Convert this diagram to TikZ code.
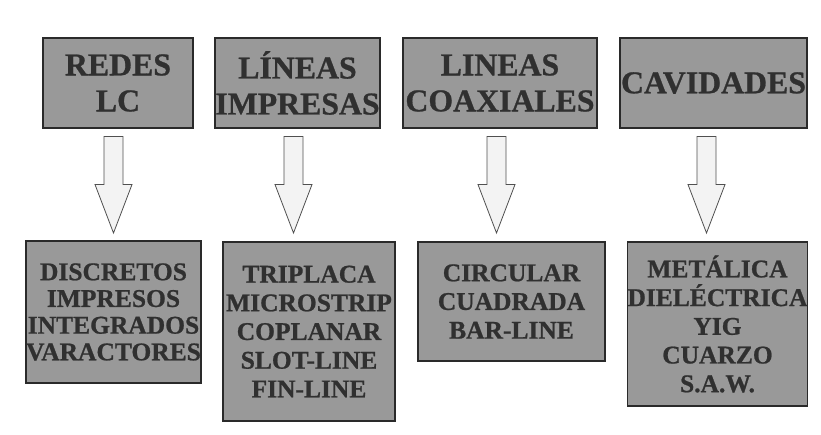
\documentclass[tikz,border=0pt]{standalone}
\usepackage{fontspec}
\setmainfont{Liberation Serif}[BoldFeatures={FakeBold=0.8}]
\definecolor{boxfill}{HTML}{999999}
\definecolor{boxline}{HTML}{2A2A2A}
\definecolor{txt}{HTML}{303030}
\definecolor{arrfill}{HTML}{F3F3F3}
\definecolor{arrline}{HTML}{505050}
\begin{document}
\begin{tikzpicture}[x=1pt,y=-1pt,
  topbox/.style={draw=boxline,fill=boxfill,line width=1.3pt,inner sep=0pt,align=center,text=txt,
    font=\fontsize{31.8}{36}\selectfont\bfseries},
  botbox/.style={draw=boxline,fill=boxfill,line width=1.3pt,inner sep=0pt,align=center,text=txt,
    font=\fontsize{25.5}{28.7}\selectfont\bfseries},
  fatarrow/.style={draw=arrline,fill=arrfill,line width=0.8pt,line join=miter}]
\useasboundingbox (0,0) rectangle (821,434);
% top boxes
\node[topbox,minimum width=150pt,minimum height=90pt] (t1) at (118,83) {REDES\\LC};
\node[topbox,minimum width=165pt,minimum height=90pt] (t2) at (297.5,83) {LÍNEAS\\IMPRESAS};
\node[topbox,minimum width=194pt,minimum height=90pt] (t3) at (500,83) {LINEAS\\COAXIALES};
\node[topbox,minimum width=187pt,minimum height=90pt] (t4) at (713.5,83) {CAVIDADES};
% bottom boxes
\node[botbox,minimum width=173pt,minimum height=142pt,font=\fontsize{25.5}{26.7}\selectfont\bfseries] (b1) at (113.5,312) {DISCRETOS\\IMPRESOS\\INTEGRADOS\\VARACTORES};
\node[botbox,minimum width=172pt,minimum height=179pt] (b2) at (309,331.5) {TRIPLACA\\MICROSTRIP\\COPLANAR\\SLOT-LINE\\FIN-LINE};
\node[botbox,minimum width=187pt,minimum height=119pt] (b3) at (511.5,301.5) {CIRCULAR\\CUADRADA\\BAR-LINE};
\node[botbox,minimum width=179pt,minimum height=164pt] (b4) at (717.5,324) {METÁLICA\\DIELÉCTRICA\\YIG\\CUARZO\\S.A.W.};
% block arrows
\foreach \n/\cx in {1/113.5,2/293.5,3/496.5,4/706.5}{
  \draw[fatarrow] (\cx-9.5,136.5) -- (\cx+9.5,136.5) -- (\cx+9.5,184.5) -- (\cx+18.5,184.5)
    -- (\cx,233) -- (\cx-18.5,184.5) -- (\cx-9.5,184.5) -- cycle;
}
\end{tikzpicture}
\end{document}
